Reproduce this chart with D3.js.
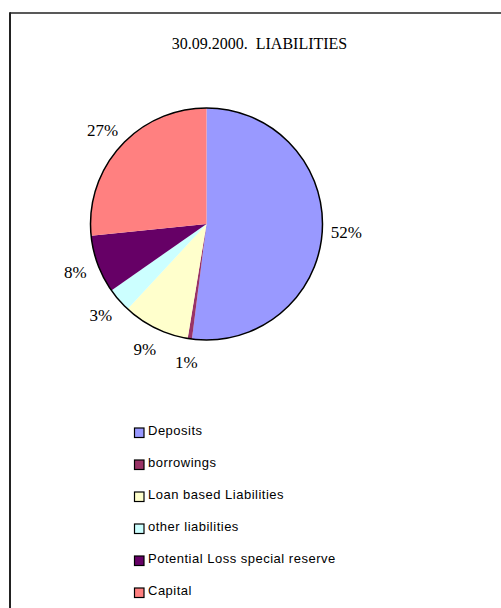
<!DOCTYPE html>
<html>
<head>
<meta charset="utf-8">
<script src="https://cdn.jsdelivr.net/npm/d3@7"></script>
<style>
  html, body { margin: 0; padding: 0; background: #fff; }
  svg { display: block; }
</style>
</head>
<body>
<svg id="chart" width="501" height="608"></svg>
<script>
const categories = ["Deposits", "borrowings", "Loan based Liabilities", "other liabilities", "Potential Loss special reserve", "Capital"];
const values = [52.0, 0.6, 9.3, 3.4, 8.1, 26.6];
const pctLabels = ["52%", "1%", "9%", "3%", "8%", "27%"];
const colors = ["#9999FF", "#993366", "#FFFFCC", "#CCFFFF", "#660066", "#FF8080"];
const title = "30.09.2000.  LIABILITIES";

const svg = d3.select("#chart");

// frame
svg.append("line").attr("x1", 10).attr("x2", 501).attr("y1", 13).attr("y2", 13)
  .attr("stroke", "#222").attr("stroke-width", 1.5);
svg.append("line").attr("x1", 10).attr("x2", 10).attr("y1", 12.25).attr("y2", 608)
  .attr("stroke", "#222").attr("stroke-width", 2);

// title
svg.append("text").attr("x", 259.5).attr("y", 43)
  .attr("text-anchor", "middle").attr("dominant-baseline", "central")
  .style("white-space", "pre")
  .style("font-family", "'Liberation Serif', 'Times New Roman', serif")
  .style("font-size", "16px").attr("fill", "#000").text(title);

const cx = 206.5, cy = 224, r = 116;
const g = svg.append("g").attr("transform", `translate(${cx},${cy})`);

const pie = d3.pie().sort(null).value(d => d);
const arcs = pie(values);
const arc = d3.arc().innerRadius(0).outerRadius(r);
const labelArc = d3.arc().innerRadius(140).outerRadius(140);

g.selectAll("path.slice").data(arcs).enter().append("path")
  .attr("class", "slice")
  .attr("d", arc)
  .attr("fill", (d, i) => colors[i])
  .attr("stroke", "none");

g.append("circle").attr("r", r).attr("fill", "none").attr("stroke", "#000").attr("stroke-width", 1.5);

g.selectAll("text.lbl").data(arcs).enter().append("text")
  .attr("class", "lbl")
  .attr("transform", d => `translate(${labelArc.centroid(d)})`)
  .attr("text-anchor", "middle").attr("dominant-baseline", "central")
  .style("font-family", "'Liberation Serif', 'Times New Roman', serif")
  .style("font-size", "17px").attr("fill", "#000")
  .text((d, i) => pctLabels[i]);

// legend
const legend = svg.append("g");
const ly = d3.scaleBand().domain(categories).range([414.5, 606.5]);
const items = legend.selectAll("g.item").data(categories).enter().append("g")
  .attr("class", "item")
  .attr("transform", d => `translate(0,${ly(d) + ly.bandwidth() / 2})`);
items.append("rect").attr("x", 134.5).attr("y", -2.5).attr("width", 9.5).attr("height", 9.5)
  .attr("fill", (d, i) => colors[i]).attr("stroke", "#000").attr("stroke-width", 1.2);
items.append("text").attr("x", 148).attr("y", 0)
  .attr("dominant-baseline", "central")
  .style("font-family", "'Liberation Sans', Arial, sans-serif")
  .style("font-size", "13px").style("letter-spacing", "0.5px").attr("fill", "#000")
  .text(d => d);
</script>
</body>
</html>
